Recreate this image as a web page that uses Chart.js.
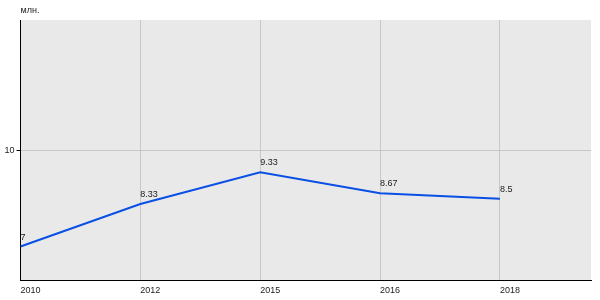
<!DOCTYPE html>
<html>
<head>
<meta charset="utf-8">
<script src="https://cdn.jsdelivr.net/npm/chart.js@4"></script>
<style>
  html, body { margin: 0; padding: 0; background: #fff; }
  #wrap { width: 600px; height: 300px; }
</style>
</head>
<body>
<div id="wrap"><canvas id="myChart" width="600" height="300"></canvas></div>
<script>
// data
const years = ['2010', '2012', '2015', '2016', '2018'];
const values = [7, 8.33, 9.33, 8.67, 8.5];
const yTicks = [10];
const unitLabel = 'млн.';

const FONT = 'Arial, "Liberation Sans", sans-serif';

/* background of plot area */
const plotBg = {
  id: 'plotBg',
  beforeDraw(chart) {
    const a = chart.chartArea;
    const c = chart.ctx;
    c.save();
    c.fillStyle = '#e9e9e9';
    c.fillRect(a.left, a.top, a.right - a.left, a.bottom - a.top);
    c.restore();
  }
};

/* value labels + unit text */
const pointLabels = {
  id: 'pointLabels',
  afterDatasetsDraw(chart) {
    const c = chart.ctx;
    const meta = chart.getDatasetMeta(0);
    c.save();
    c.font = '9px ' + FONT;
    c.fillStyle = '#222';
    c.textAlign = 'left';
    c.textBaseline = 'alphabetic';
    meta.data.forEach(function(pt, i) {
      c.fillText(String(values[i]), pt.x, pt.y - 7);
    });
    c.textBaseline = 'middle';
    c.fillText(unitLabel, chart.chartArea.left, 11);
    c.restore();
  }
};

const ctx = document.getElementById('myChart').getContext('2d');
// eslint-disable-next-line no-undef
const chart = new Chart(ctx, {
  type: 'line',
  data: {
    datasets: [{
      data: values.map(function(v, i) { return { x: i, y: v }; }),
      borderColor: '#0a50e4',
      borderWidth: 2,
      pointRadius: 0,
      tension: 0,
      fill: false
    }]
  },
  options: {
    responsive: false,
    animation: false,
    layout: { padding: { top: 20, right: 9, left: 0, bottom: 0 } },
    plugins: { legend: { display: false }, tooltip: { enabled: false } },
    scales: {
      x: {
        type: 'linear',
        min: 0,
        max: 4.76,
        afterBuildTicks(scale) {
          scale.ticks = years.map(function(y, i) { return { value: i }; });
        },
        afterFit(scale) { scale.height = 20; },
        ticks: {
          align: 'start',
          maxRotation: 0,
          padding: 5,
          color: '#222',
          font: { family: FONT, size: 9 },
          callback: function(v) { return years[v] || ''; }
        },
        grid: { color: '#c8c8c8', lineWidth: 1, drawTicks: false },
        border: { color: '#000', width: 1 }
      },
      y: {
        min: 5.95,
        max: 14.1,
        afterBuildTicks(scale) {
          scale.ticks = yTicks.map(function(v) { return { value: v }; });
        },
        afterFit(scale) { scale.width = 20.5; },
        ticks: {
          padding: 2,
          color: '#222',
          font: { family: FONT, size: 9 }
        },
        grid: { color: '#c8c8c8', lineWidth: 1, tickLength: 4, tickColor: '#000' },
        border: { color: '#000', width: 1 }
      }
    }
  },
  plugins: [plotBg, pointLabels]
});
</script>
</body>
</html>
